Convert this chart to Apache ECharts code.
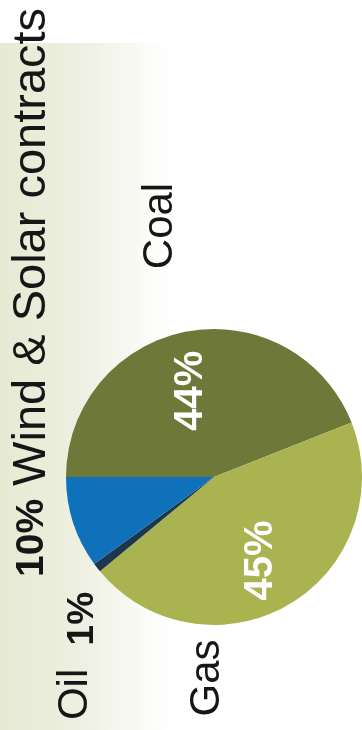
<!DOCTYPE html>
<html>
<head>
<meta charset="utf-8">
<title>Generation mix</title>
<script src="https://cdn.jsdelivr.net/npm/echarts@6.0.0/dist/echarts.min.js"></script>
<style>
  html, body { margin: 0; padding: 0; background: #ffffff; }
  #chart { width: 362px; height: 730px; }
</style>
</head>
<body>
<div id="chart"></div>
<script>
// Share of generation by source (%)
const categories = ['Coal', 'Gas', 'Oil', 'Wind & Solar contracts'];
const shares = [44, 45, 1, 10];
const sliceColors = ['#6e7838', '#a9b451', '#1d3650', '#0f71b9'];
// slices whose percentage is printed inside the sector
const insidePercent = ['Coal', 'Gas'];
// slices whose caption carries the percentage, and on which side
const captionPercent = { 'Oil': 'after', 'Wind & Solar contracts': 'before' };

const FONT = '"Liberation Sans", Arial, Helvetica, sans-serif';
const CX = 214, CY = 477, R = 148;

// caption anchors, measured from the pie centre (text is set vertically)
const captionPlacement = {
  'Coal': { dx: -52, dy: -251, align: 'center' },
  'Gas': { dx: -5, dy: 201, align: 'center' },
  'Oil': { dx: -137, dy: 179, align: 'center' },
  'Wind & Solar contracts': { dx: -182, dy: 100, align: 'left' }
};
// small nudges for the in-sector percentages (in the label's own, rotated frame)
const percentNudge = { 'Coal': { dx: -9, dy: -5 }, 'Gas': { dx: 0, dy: -2 } };

const pieData = categories.map((name, i) => ({
  name: name,
  value: shares[i],
  itemStyle: { color: sliceColors[i] }
}));

function captionText(params) {
  const side = captionPercent[params.name];
  if (side === 'after') return '{n|' + params.name + '  }{q|' + params.value + '%}';
  if (side === 'before') return '{p|' + params.value + '%}{w| ' + params.name + '}';
  return '{n|' + params.name + '}';
}

const chart = echarts.init(document.getElementById('chart'), null, { renderer: 'canvas' });

chart.setOption({
  animation: false,
  backgroundColor: '#ffffff',
  graphic: [{
    type: 'rect',
    z: 0,
    silent: true,
    shape: { x: 0, y: 43, width: 362, height: 687 },
    style: {
      fill: {
        type: 'linear', x: 0, y: 0, x2: 1, y2: 0,
        colorStops: [
          { offset: 0, color: '#e6ead3' },
          { offset: 0.22, color: '#eeefe1' },
          { offset: 0.47, color: '#ffffff' },
          { offset: 1, color: '#ffffff' }
        ]
      }
    }
  }],
  series: [
    {
      // the slices, with their captions
      type: 'pie',
      center: [CX, CY],
      radius: [0, R],
      startAngle: 180,
      clockwise: true,
      avoidLabelOverlap: false,
      silent: true,
      z: 2,
      data: pieData,
      itemStyle: { borderWidth: 0 },
      label: {
        show: true,
        position: 'inside',
        rotate: 90,
        color: '#161616',
        fontFamily: FONT,
        formatter: captionText,
        rich: {
          n: { fontSize: 42, fontFamily: FONT, color: '#161616', lineHeight: 46, verticalAlign: 'top' },
          w: { fontSize: 47, fontFamily: FONT, color: '#161616', lineHeight: 50 },
          p: { fontSize: 39, fontWeight: 'bold', fontFamily: FONT, color: '#161616', lineHeight: 46 },
          q: { fontSize: 37, fontWeight: 'bold', fontFamily: FONT, color: '#161616', lineHeight: 44,
               verticalAlign: 'top', padding: [10, 0, 0, 0] }
        }
      },
      labelLine: { show: false },
      labelLayout: function (params) {
        const p = captionPlacement[categories[params.dataIndex]];
        return { x: CX + p.dx, y: CY + p.dy, align: p.align, verticalAlign: 'middle' };
      }
    },
    {
      // transparent ring carrying the in-sector percentages
      type: 'pie',
      center: [CX, CY],
      radius: [40, R],
      startAngle: 180,
      clockwise: true,
      avoidLabelOverlap: false,
      silent: true,
      z: 3,
      data: categories.map((name, i) => ({ name: name, value: shares[i] })),
      itemStyle: { color: 'rgba(0,0,0,0)', borderWidth: 0 },
      label: {
        show: true,
        position: 'inside',
        rotate: 90,
        color: '#ffffff',
        fontFamily: FONT,
        fontSize: 40,
        fontWeight: 'bold',
        formatter: (params) => insidePercent.includes(params.name) ? params.value + '%' : ''
      },
      labelLine: { show: false },
      labelLayout: function (params) {
        const n = percentNudge[categories[params.dataIndex]];
        return n ? { dx: n.dx, dy: n.dy } : {};
      }
    }
  ]
});
</script>
</body>
</html>
